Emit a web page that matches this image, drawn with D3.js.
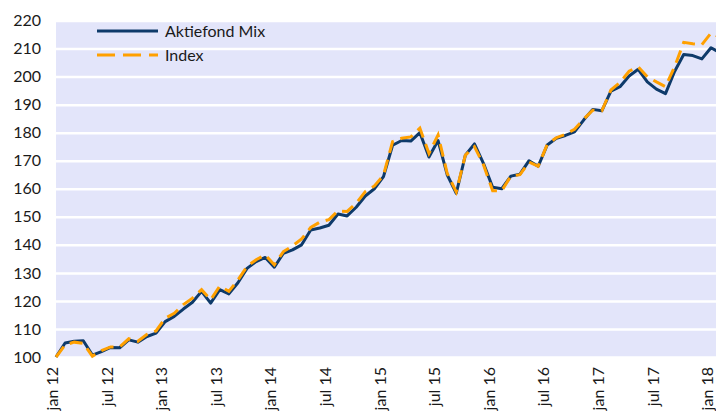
<!DOCTYPE html>
<html><head><meta charset="utf-8">
<script src="https://cdn.jsdelivr.net/npm/d3@7"></script>
<style>body{margin:0;background:#fff}svg{display:block}text{font-family:Lato,"Noto Sans",sans-serif;fill:#1a1a1a}</style>
</head><body><svg id="c" width="716" height="415"></svg>
<script>
const categories = ["jan 12","feb 12","mar 12","apr 12","maj 12","jun 12","jul 12","aug 12","sep 12","okt 12","nov 12","dec 12",
"jan 13","feb 13","mar 13","apr 13","maj 13","jun 13","jul 13","aug 13","sep 13","okt 13","nov 13","dec 13",
"jan 14","feb 14","mar 14","apr 14","maj 14","jun 14","jul 14","aug 14","sep 14","okt 14","nov 14","dec 14",
"jan 15","feb 15","mar 15","apr 15","maj 15","jun 15","jul 15","aug 15","sep 15","okt 15","nov 15","dec 15",
"jan 16","feb 16","mar 16","apr 16","maj 16","jun 16","jul 16","aug 16","sep 16","okt 16","nov 16","dec 16",
"jan 17","feb 17","mar 17","apr 17","maj 17","jun 17","jul 17","aug 17","sep 17","okt 17","nov 17","dec 17",
"jan 18","feb 18"];
const fund = [100,105,105.6,105.8,100.7,101.9,103.4,103.3,106.1,105.3,107.3,108.5,
112.6,114.5,117.1,119.5,123.4,119.2,124,122.5,126.5,131.6,134,135.5,
132,137,138.2,140,145.3,146,147,151,150.3,153.4,157.4,160,
164.3,175.5,177.2,177,180,171.3,177.2,165,158.4,172,176,169,
160.5,160,164.5,165.2,170,168,175.6,178,179,180.3,184.5,188.3,
187.8,194.8,196.4,200.2,202.6,198.1,195.5,193.9,201.8,207.9,207.5,206.3,
210.3,208.5];
const index = [100,104.3,105.3,104.9,100.3,102.3,103.6,103.6,106.5,105.6,108.1,109.3,
113.8,115.6,118.7,121,124,120.4,125.3,123.4,127.5,132.3,134.7,136.4,
132.9,137.6,139.6,142.1,146.2,148.1,149,152.1,151.9,154.8,159,161,
164.8,176.8,178,178.5,181.6,172.6,179.2,165.5,158.9,172,175,168.5,
159.3,159.3,164.5,165,169.5,168,175.8,178.2,179.4,181.2,184.8,188,
187.8,195.2,197.9,201.9,203.5,199.9,198.1,196.4,203.5,212.2,211.7,211.4,
215.5,214];
const tickLabels = ["jan 12","jul 12","jan 13","jul 13","jan 14","jul 14","jan 15","jul 15","jan 16","jul 16","jan 17","jul 17","jan 18"];
const yTicks = [100,110,120,130,140,150,160,170,180,190,200,210,220];
const seriesNames = ["Aktiefond Mix","Index"];

const svg = d3.select("#c");
const x = d3.scalePoint().domain(categories).range([56, 56 + 73*9.097]);
const y = d3.scaleLinear().domain([100,220]).range([357,20.5]);
const plotL = 56, plotR = 716;

svg.append("rect").attr("x",plotL).attr("y",y(220)).attr("width",plotR-plotL).attr("height",y(100)-y(220)).attr("fill","#E3E5FA");

const ya = svg.append("g").attr("transform",`translate(${plotL},0)`)
  .call(d3.axisLeft(y).tickValues(yTicks).tickSize(-(plotR-plotL)).tickPadding(15).tickFormat(d3.format("d")));
ya.select(".domain").remove();
ya.selectAll(".tick line").attr("stroke","#fff").attr("stroke-width",2.5);
ya.selectAll(".tick text").attr("font-size",16).attr("font-family","Lato").attr("fill","#1a1a1a");

const xa = svg.append("g").attr("transform",`translate(0,${y(100)})`)
  .call(d3.axisBottom(x).tickValues(tickLabels).tickSize(0));
xa.select(".domain").remove();
xa.selectAll(".tick text").attr("font-size",16).attr("font-family","Lato").attr("fill","#1a1a1a")
  .attr("text-anchor","end").attr("dy","0.35em")
  .attr("transform","translate(-4,10) rotate(-90)").attr("x",0).attr("y",0);

const line = d3.line().x((d,i)=>x(categories[i])).y(d=>y(d));
svg.append("path").datum(fund).attr("d",line).attr("fill","none").attr("stroke","#0E3A6A").attr("stroke-width",3).attr("stroke-linejoin","round");
svg.append("path").datum(index).attr("d",line).attr("fill","none").attr("stroke","#FFA000").attr("stroke-width",3).attr("stroke-dasharray","13,7");

const lg = svg.append("g");
[[31,"#0E3A6A",null],[55,"#FFA000","18,8"]].forEach((r,k)=>{
  const l = lg.append("line").attr("x1",97).attr("x2",158).attr("y1",r[0]).attr("y2",r[0]).attr("stroke",r[1]).attr("stroke-width",3);
  if(r[2]) l.attr("stroke-dasharray",r[2]);
  lg.append("text").attr("x",165).attr("y",r[0]).attr("dy","0.35em").attr("font-size",16).text(seriesNames[k]);
});
</script></body></html>
